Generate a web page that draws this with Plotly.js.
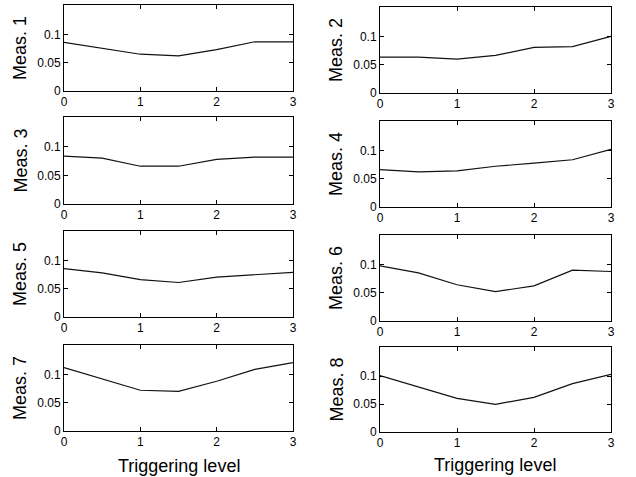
<!DOCTYPE html>
<html>
<head>
<meta charset="utf-8">
<script src="https://cdn.plot.ly/plotly-3.0.1.min.js"></script>
<style>html,body{margin:0;padding:0;background:#fff;}#chart{width:636px;height:477px;}</style>
</head>
<body>
<div id="chart"></div>
<script>
// Triggering levels (x values)
const levels = [0, 0.5, 1, 1.5, 2, 2.5, 3];
// Measurement series
const meas1 = [0.086, 0.076, 0.065, 0.062, 0.073, 0.087, 0.087];
const meas2 = [0.0635, 0.0635, 0.060, 0.0665, 0.0805, 0.082, 0.100];
const meas3 = [0.0835, 0.080, 0.066, 0.066, 0.078, 0.082, 0.082];
const meas4 = [0.066, 0.062, 0.064, 0.072, 0.0775, 0.0835, 0.102];
const meas5 = [0.0855, 0.078, 0.066, 0.061, 0.0705, 0.075, 0.079];
const meas6 = [0.0975, 0.085, 0.064, 0.052, 0.062, 0.090, 0.0875];
const meas7 = [0.112, 0.092, 0.072, 0.070, 0.088, 0.109, 0.121];
const meas8 = [0.101, 0.0805, 0.060, 0.0495, 0.062, 0.0865, 0.103];
const series = [meas1, meas2, meas3, meas4, meas5, meas6, meas7, meas8];
const seriesNames = ['Meas. 1','Meas. 2','Meas. 3','Meas. 4','Meas. 5','Meas. 6','Meas. 7','Meas. 8'];
const xTicks = [0, 1, 2, 3];
const xTickText = ['0', '1', '2', '3'];
const yTicks = [0, 0.05, 0.1];
const yTickText = ['0', '0.05', '0.1'];
const xTitle = 'Triggering level';

const W = 636, H = 477;
// panel pixel boxes [left, right, top, bottom]
const boxes = [
  [64, 293, 5, 91], [380, 611, 7, 93],
  [64, 293, 117, 204], [380, 611, 121, 207],
  [64, 293, 231, 317], [380, 611, 235, 321],
  [64, 293, 345, 431], [380, 611, 347, 432]
];
const font = 'Liberation Sans, Arial, Helvetica, sans-serif';
const data = [];
const layout = {
  width: W, height: H,
  margin: {l: 0, r: 0, t: 0, b: 0},
  paper_bgcolor: '#fff', plot_bgcolor: '#fff',
  showlegend: false,
  font: {family: font, color: '#000', size: 12},
  annotations: []
};
series.forEach((s, i) => {
  const n = i + 1;
  const xa = n === 1 ? 'xaxis' : 'xaxis' + n;
  const ya = n === 1 ? 'yaxis' : 'yaxis' + n;
  const b = boxes[i];
  data.push({
    x: levels, y: s, type: 'scatter', mode: 'lines',
    xaxis: 'x' + (n === 1 ? '' : n), yaxis: 'y' + (n === 1 ? '' : n),
    line: {color: '#111', width: 1.2}, hoverinfo: 'skip'
  });
  const common = {
    showline: true, mirror: 'ticks', linecolor: '#000', linewidth: 1,
    ticks: 'inside', ticklen: 4, tickcolor: '#000', tickwidth: 1,
    showgrid: false, zeroline: false, fixedrange: true,
    tickfont: {family: font, size: 12, color: '#000'}
  };
  layout[xa] = Object.assign({}, common, {
    domain: [b[0] / W, b[1] / W], range: [0, 3],
    tickvals: xTicks, ticktext: xTickText,
    anchor: 'y' + (n === 1 ? '' : n)
  });
  layout[ya] = Object.assign({}, common, {
    domain: [1 - b[3] / H, 1 - b[2] / H], range: [0, 0.152],
    tickvals: yTicks, ticktext: yTickText,
    anchor: 'x' + (n === 1 ? '' : n)
  });
  layout.annotations.push({
    text: seriesNames[i], textangle: -90,
    xref: 'paper', yref: 'paper',
    x: (b[0] - 44) / W, y: 1 - ((b[2] + b[3]) / 2) / H,
    xanchor: 'center', yanchor: 'middle', showarrow: false,
    font: {family: font, size: 18, color: '#000'}
  });
});
layout.annotations.push({
  text: xTitle, xref: 'paper', yref: 'paper',
  x: 179 / W, y: 1 - 466 / H, xanchor: 'center', yanchor: 'middle',
  showarrow: false, font: {family: font, size: 18, color: '#000'}
});
layout.annotations.push({
  text: xTitle, xref: 'paper', yref: 'paper',
  x: 495 / W, y: 1 - 465 / H, xanchor: 'center', yanchor: 'middle',
  showarrow: false, font: {family: font, size: 18, color: '#000'}
});
Plotly.newPlot('chart', data, layout, {staticPlot: true, displayModeBar: false});
</script>
</body>
</html>
